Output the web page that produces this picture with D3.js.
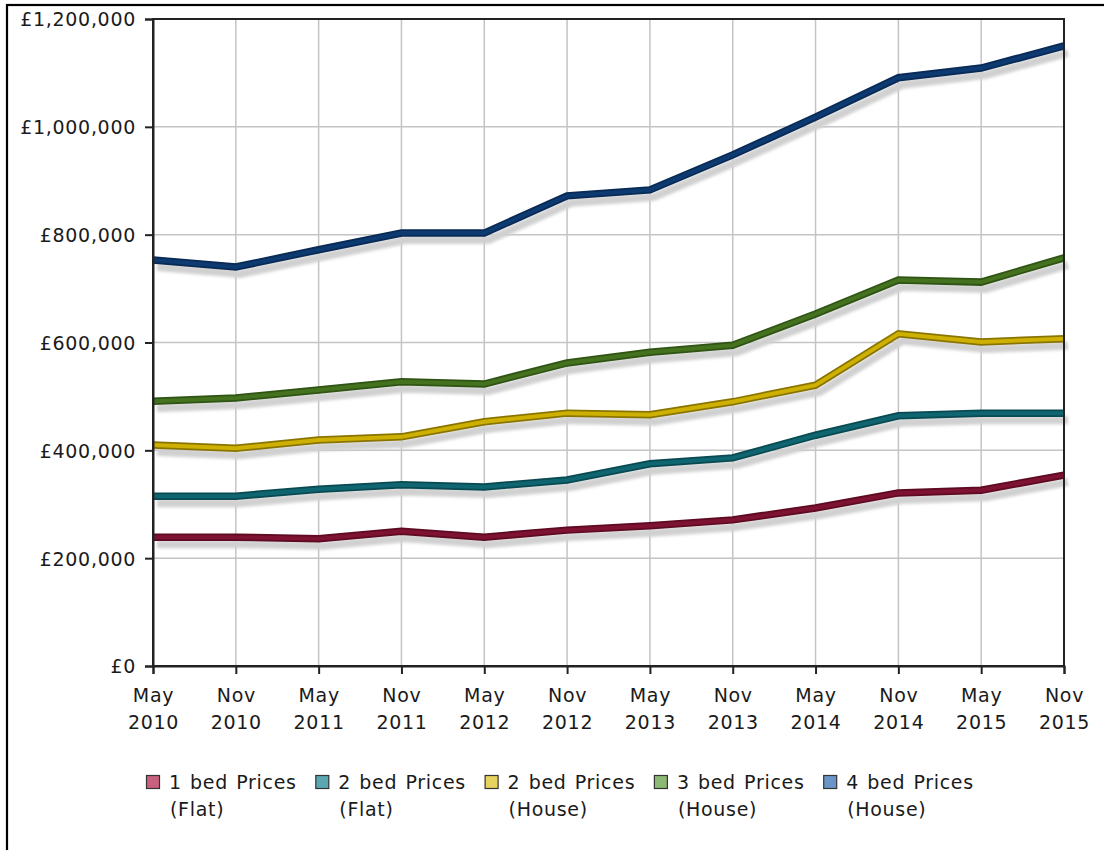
<!DOCTYPE html>
<html>
<head>
<meta charset="utf-8">
<script src="https://cdn.jsdelivr.net/npm/d3@7/dist/d3.min.js"></script>
<style>
  html, body { margin: 0; padding: 0; background: #fff; }
  svg { display: block; }
  text { font-family: "DejaVu Sans", Verdana, sans-serif; fill: #1a1a1a; }
</style>
</head>
<body>
<svg id="chart" width="1104" height="850"></svg>
<script>
// Half-yearly periods
const periods = ["May 2010", "Nov 2010", "May 2011", "Nov 2011", "May 2012", "Nov 2012",
                 "May 2013", "Nov 2013", "May 2014", "Nov 2014", "May 2015", "Nov 2015"];

// Average prices (£) per property type
const oneBedFlat   = [239000, 239000, 236000, 250000, 239000, 252000, 260000, 271000, 293000, 321000, 326000, 354000];
const twoBedFlat   = [315000, 315000, 328000, 336000, 332000, 345000, 375000, 386000, 428000, 464000, 469000, 469000];
const twoBedHouse  = [410000, 404000, 419000, 425000, 453000, 469000, 466000, 490000, 521000, 616000, 601000, 607000];
const threeBedHouse= [491000, 497000, 512000, 527000, 523000, 562000, 582000, 595000, 653000, 716000, 712000, 757000];
const fourBedHouse = [753000, 740000, 772000, 803000, 803000, 872000, 883000, 948000, 1018000, 1091000, 1109000, 1150000];

const seriesNames = [["1 bed Prices", "(Flat)"], ["2 bed Prices", "(Flat)"], ["2 bed Prices", "(House)"],
                     ["3 bed Prices", "(House)"], ["4 bed Prices", "(House)"]];
const seriesValues = [oneBedFlat, twoBedFlat, twoBedHouse, threeBedHouse, fourBedHouse];

// Tick values for the price axis
const yTicks = [0, 200000, 400000, 600000, 800000, 1000000, 1200000];

// Line colours (edge, core) and legend swatch fill
const lineEdge = ["#5e0a22", "#094a52", "#8a7400", "#2f5414", "#082a55"];
const lineCore = ["#7d1233", "#0f6570", "#cdb000", "#44721f", "#0d3a70"];
const swatchFill = ["#c9607e", "#5aa7b2", "#e6d25c", "#8bb872", "#6b95c9"];

const svg = d3.select("#chart");
const W = 1104, H = 850;
const plot = { left: 153, right: 1064, top: 19, bottom: 666 };

// Outer frame (left and top edges visible)
svg.append("rect").attr("x", 7).attr("y", 5).attr("width", W + 20).attr("height", H + 20)
  .attr("fill", "#fff").attr("stroke", "#000").attr("stroke-width", 2.2);

const x = d3.scalePoint().domain(periods).range([plot.left, plot.right]);
const y = d3.scaleLinear().domain([0, 1200000]).range([plot.bottom, plot.top]);

const defs = svg.append("defs");
defs.append("filter").attr("id", "soft").attr("x", "-5%").attr("y", "-20%").attr("width", "110%").attr("height", "140%")
  .append("feGaussianBlur").attr("stdDeviation", 1.5);

// Grid
const grid = svg.append("g");
grid.selectAll("line.v").data(periods).join("line")
  .attr("x1", d => x(d)).attr("x2", d => x(d))
  .attr("y1", plot.top).attr("y2", plot.bottom)
  .attr("stroke", "#c4c4c4").attr("stroke-width", 1.5);
grid.selectAll("line.h").data(yTicks).join("line")
  .attr("x1", plot.left).attr("x2", plot.right)
  .attr("y1", d => y(d)).attr("y2", d => y(d))
  .attr("stroke", "#c4c4c4").attr("stroke-width", 1.5);

// Series lines with drop shadow
const line = d3.line().x((d, i) => x(periods[i])).y(d => y(d));
const shadows = svg.append("g").attr("filter", "url(#soft)");
seriesValues.forEach(vals => {
  shadows.append("path").attr("d", line(vals)).attr("transform", "translate(4,7)")
    .attr("fill", "none").attr("stroke", "#d0d0d0").attr("stroke-width", 8)
    .attr("stroke-linejoin", "round");
});
seriesValues.forEach((vals, k) => {
  svg.append("path").attr("d", line(vals)).attr("fill", "none")
    .attr("stroke", lineEdge[k]).attr("stroke-width", 7.5).attr("stroke-linejoin", "miter");
  svg.append("path").attr("d", line(vals)).attr("fill", "none")
    .attr("stroke", lineCore[k]).attr("stroke-width", 4).attr("stroke-linejoin", "miter");
});

// Plot frame
svg.append("rect").attr("x", plot.left).attr("y", plot.top)
  .attr("width", plot.right - plot.left).attr("height", plot.bottom - plot.top)
  .attr("fill", "none").attr("stroke", "#222").attr("stroke-width", 2);

// Axes
const fmt = v => "£" + d3.format(",")(v);
const yAxis = svg.append("g").attr("transform", `translate(${plot.left},0)`)
  .call(d3.axisLeft(y).tickValues(yTicks).tickFormat(fmt).tickSize(8).tickPadding(9));
const xAxis = svg.append("g").attr("transform", `translate(0,${plot.bottom})`)
  .call(d3.axisBottom(x).tickSize(8).tickFormat(""));
[yAxis, xAxis].forEach(g => {
  g.select(".domain").attr("stroke", "#222").attr("stroke-width", 2);
  g.selectAll(".tick line").attr("stroke", "#222").attr("stroke-width", 2);
});
yAxis.selectAll(".tick text").attr("font-size", 19).attr("letter-spacing", "0.7px")
  .attr("font-family", "DejaVu Sans").attr("fill", "#1a1a1a").attr("dy", "0.36em");

// Two-line period labels
xAxis.selectAll(".tick").each(function(d) {
  const parts = d.split(" ");
  const t = d3.select(this).append("text").attr("text-anchor", "middle")
    .attr("font-size", 19).attr("letter-spacing", "0.7px").attr("font-family", "DejaVu Sans").attr("fill", "#1a1a1a");
  t.append("tspan").attr("x", 0).attr("y", 36).text(parts[0]);
  t.append("tspan").attr("x", 0).attr("y", 63).text(parts[1]);
});

// Legend
const legend = svg.append("g").attr("transform", "translate(146,775)");
seriesNames.forEach((nm, k) => {
  const g = legend.append("g").attr("transform", `translate(${k * 169.3},0)`);
  g.append("rect").attr("x", 0.5).attr("y", 0.5).attr("width", 13).attr("height", 13)
    .attr("fill", swatchFill[k]).attr("stroke", "#333").attr("stroke-width", 1.2);
  const t = g.append("text").attr("font-size", 19).attr("letter-spacing", "0.7px").attr("word-spacing", "1.5px");
  t.append("tspan").attr("x", 23).attr("y", 14).text(nm[0]);
  t.append("tspan").attr("x", 24).attr("y", 41).text(nm[1]);
});
</script>
</body>
</html>
